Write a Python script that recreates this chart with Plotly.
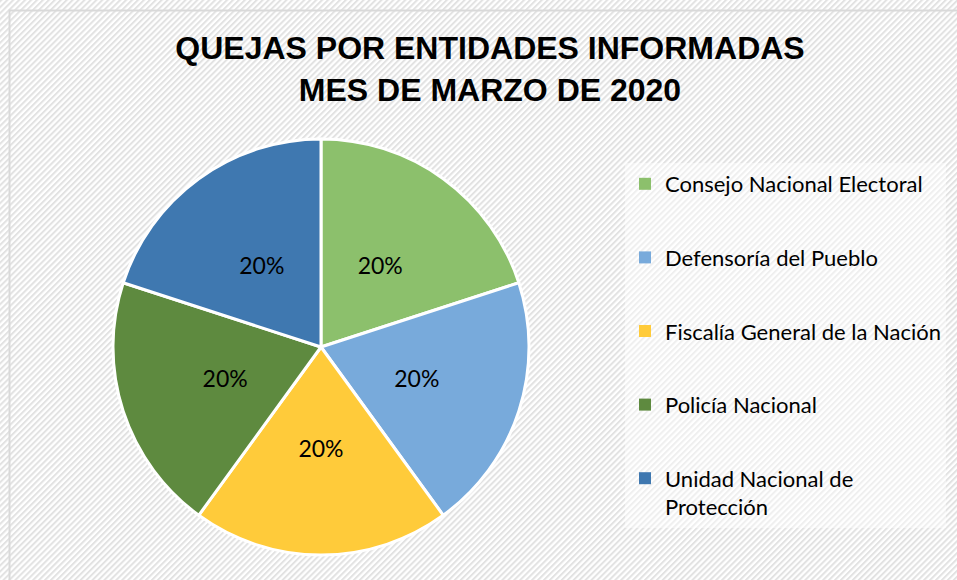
import base64
import plotly.graph_objects as go

# ---- data ----
entities = [
    "Consejo Nacional Electoral",
    "Defensoría del Pueblo",
    "Fiscalía General de la Nación",
    "Policía Nacional",
    "Unidad Nacional de<br>Protección",
]
shares = [20, 20, 20, 20, 20]
slice_colors = ["#8CC06C", "#78AADB", "#FFCB3A", "#5E8A3F", "#3F78B0"]
title_lines = ["QUEJAS POR ENTIDADES INFORMADAS", "MES DE MARZO DE 2020"]

W, H = 957, 580
CX, CY, R = 321, 347, 208      # pie centre / radius in pixels
RT = 160                       # radius of the text-carrying pie

# diagonal hatched background as an svg image
svg = f'''<svg xmlns="http://www.w3.org/2000/svg" width="{W}" height="{H}">
<defs><pattern id="p" width="4.2" height="4.2" patternUnits="userSpaceOnUse" patternTransform="rotate(-45)">
<rect x="0" y="0" width="4.2" height="2" fill="#e2e2e2"/></pattern></defs>
<rect width="{W}" height="{H}" fill="#ffffff"/>
<rect width="{W}" height="{H}" fill="url(#p)"/>
</svg>'''
bg_src = "data:image/svg+xml;base64," + base64.b64encode(svg.encode()).decode()


def dom(r):
    return dict(x=[(CX - r) / W, (CX + r) / W], y=[(H - CY - r) / H, (H - CY + r) / H])


fig = go.Figure()
# coloured slices
fig.add_trace(
    go.Pie(
        labels=entities,
        values=shares,
        sort=False,
        direction="clockwise",
        rotation=0,
        marker=dict(colors=slice_colors, line=dict(color="white", width=3)),
        textinfo="none",
        domain=dom(R),
        showlegend=False,
        hoverinfo="label+percent",
    )
)
# percentage labels (same data, smaller radius so labels sit nearer the centre)
fig.add_trace(
    go.Pie(
        labels=entities,
        values=shares,
        sort=False,
        direction="clockwise",
        rotation=0,
        marker=dict(colors=["rgba(0,0,0,0)"] * len(shares), line=dict(width=0)),
        texttemplate="%{value}%",
        textinfo="text",
        textposition="inside",
        insidetextorientation="horizontal",
        textfont=dict(family="Lato, Open Sans, sans-serif", size=23, color="#000000"),
        domain=dom(RT),
        showlegend=False,
        hoverinfo="skip",
    )
)
# legend entries (one per slice)
for i, (name, col) in enumerate(zip(entities, slice_colors)):
    fig.add_trace(
        go.Scatter(
            x=[None], y=[None], mode="markers", name=name,
            marker=dict(symbol="square", size=9, color=col),
            legendgroup=f"g{i}", showlegend=True, hoverinfo="skip",
        )
    )

fig.update_layout(
    width=W,
    height=H,
    margin=dict(l=0, r=0, t=0, b=0),
    paper_bgcolor="white",
    plot_bgcolor="rgba(0,0,0,0)",
    xaxis=dict(visible=False),
    yaxis=dict(visible=False),
    title=dict(
        text="<br>".join(title_lines),
        x=490 / W,
        xanchor="center",
        y=1 - 59 / H,
        yanchor="top",
        font=dict(family="Liberation Sans, Arial, sans-serif", size=32, color="#000000", weight="bold"),
    ),
    legend=dict(
        x=625 / W,
        y=1 - 163 / H,
        xanchor="left",
        yanchor="top",
        bgcolor="rgba(255,255,255,0.45)",
        font=dict(family="Lato, Open Sans, sans-serif", size=22, color="#000000"),
        tracegroupgap=42,
        valign="top",
        itemsizing="constant",
        itemwidth=30,
    ),
    images=[
        dict(
            source=bg_src,
            xref="paper",
            yref="paper",
            x=0,
            y=1,
            sizex=1,
            sizey=1,
            sizing="stretch",
            layer="below",
        )
    ],
    shapes=[
        dict(type="rect", xref="paper", yref="paper", x0=9.5 / W, x1=1.02, y0=-0.02, y1=1 - 10.5 / H,
             line=dict(color="#d9d9d9", width=2), fillcolor="rgba(0,0,0,0)", layer="below"),
    ],
)

fig.write_html(
    "out.html",
    config={"displayModeBar": False},
    post_script="document.body.style.margin='0';document.body.style.padding='0';",
)
